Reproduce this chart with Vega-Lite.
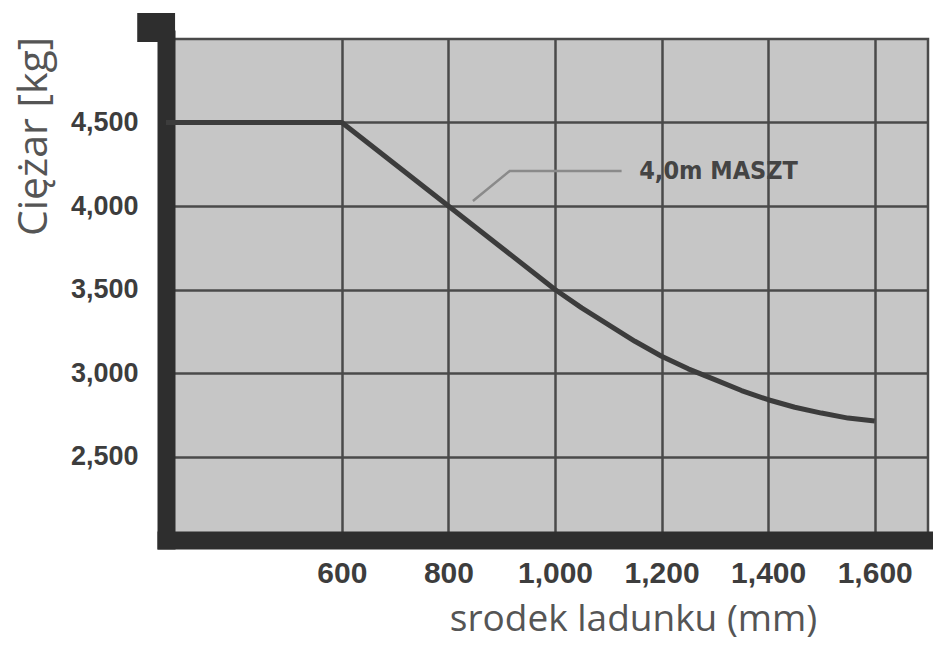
{
  "$schema": "https://vega.github.io/schema/vega-lite/v6.json",
  "width": 762,
  "height": 501,
  "autosize": "none",
  "padding": {"left": 166, "top": 39, "right": 5, "bottom": 114},
  "background": "white",
  "config": {
    "view": {"fill": "#c6c6c6", "stroke": "#4a4a4a", "strokeWidth": 2.5},
    "axis": {
      "gridColor": "#4a4a4a",
      "gridWidth": 2.5,
      "gridOpacity": 1,
      "domainColor": "#2e2e2e",
      "domainWidth": 18,
      "domainCap": "square",
      "ticks": false,
      "labelFont": "Liberation Sans",
      "labelFontWeight": "bold",
      "labelColor": "#3d3d3d",
      "titleFont": "Open Sans",
      "titleFontWeight": "normal",
      "titleColor": "#555555"
    }
  },
  "datasets": {
    "curve": [
      {"x": 270, "y": 4500},
      {"x": 600, "y": 4500},
      {"x": 700, "y": 4250},
      {"x": 800, "y": 4000},
      {"x": 900, "y": 3750},
      {"x": 1000, "y": 3500},
      {"x": 1050, "y": 3390},
      {"x": 1100, "y": 3290},
      {"x": 1150, "y": 3190},
      {"x": 1200, "y": 3100},
      {"x": 1250, "y": 3025},
      {"x": 1300, "y": 2960},
      {"x": 1350, "y": 2895},
      {"x": 1400, "y": 2840},
      {"x": 1450, "y": 2795},
      {"x": 1500, "y": 2760},
      {"x": 1550, "y": 2730},
      {"x": 1600, "y": 2712}
    ],
    "pointer": [
      {"x": 846, "y": 4030},
      {"x": 915, "y": 4210},
      {"x": 1125, "y": 4210}
    ],
    "label": [
      {"x": 1158, "y": 4210, "text": "4,0m MASZT"}
    ],
    "cap": [
      {"x": 216, "x2": 287, "y": 4982, "y2": 5156}
    ]
  },
  "layer": [
    {
      "data": {"name": "curve"},
      "mark": {"type": "line", "color": "#3c3c3c", "strokeWidth": 5, "interpolate": "linear", "strokeJoin": "round"},
      "encoding": {
        "x": {
          "field": "x", "type": "quantitative",
          "scale": {"domain": [270, 1700], "nice": false, "zero": false},
          "axis": {
            "values": [600, 800, 1000, 1200, 1400, 1600],
            "format": ",d",
            "labelFontSize": 30,
            "labelPadding": 18,
            "labelBaseline": "top",
            "title": "srodek ladunku (mm)",
            "titleFontSize": 37,
            "titleX": 467,
            "titleY": 90,
            "titleAlign": "center",
            "titleBaseline": "alphabetic"
          }
        },
        "y": {
          "field": "y", "type": "quantitative",
          "scale": {"domain": [2000, 5000], "nice": false, "zero": false},
          "axis": {
            "values": [2500, 3000, 3500, 4000, 4500],
            "format": ",d",
            "labelFontSize": 27,
            "labelPadding": 28,
            "title": "Ciężar [kg]",
            "titleFontSize": 41,
            "titleAngle": -90,
            "titleX": -132,
            "titleY": 97,
            "titleAlign": "center",
            "titleBaseline": "middle"
          }
        }
      }
    },
    {
      "data": {"name": "pointer"},
      "mark": {"type": "line", "color": "#8a8a8a", "strokeWidth": 2.5},
      "encoding": {
        "x": {"field": "x", "type": "quantitative"},
        "y": {"field": "y", "type": "quantitative"}
      }
    },
    {
      "data": {"name": "label"},
      "mark": {"type": "text", "align": "left", "baseline": "middle", "font": "DejaVu Sans Condensed", "fontWeight": "bold", "fontSize": 25, "color": "#444444"},
      "encoding": {
        "x": {"field": "x", "type": "quantitative"},
        "y": {"field": "y", "type": "quantitative"},
        "text": {"field": "text"}
      }
    },
    {
      "data": {"name": "cap"},
      "mark": {"type": "rect", "color": "#2e2e2e", "clip": false},
      "encoding": {
        "x": {"field": "x", "type": "quantitative"},
        "x2": {"field": "x2"},
        "y": {"field": "y", "type": "quantitative"},
        "y2": {"field": "y2"}
      }
    }
  ]
}
